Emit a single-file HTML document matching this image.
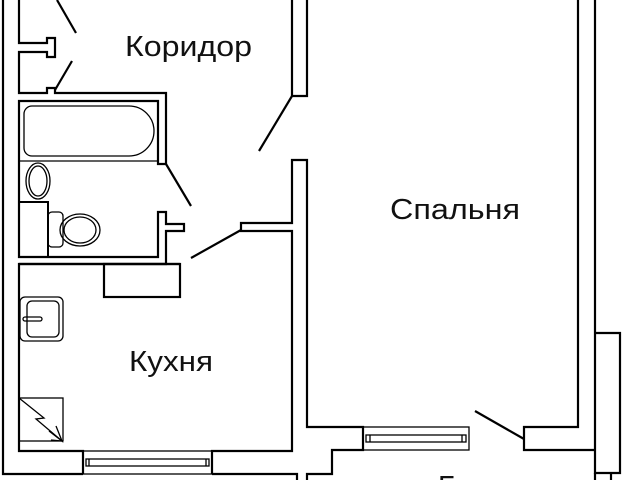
<!DOCTYPE html>
<html><head><meta charset="utf-8"><style>
html,body{margin:0;padding:0;background:#fff;width:622px;height:480px;overflow:hidden}
svg{display:block}
text{font-family:"Liberation Sans",sans-serif;fill:#111}
</style></head><body>
<svg width="622" height="480" viewBox="0 0 622 480" xmlns="http://www.w3.org/2000/svg">
<g fill="none" stroke="#000" stroke-width="2.2" stroke-linejoin="miter">
<polyline points="3,0 3,474 83,474"/>
<polyline points="19,0 19,43 47,43 47,38 55,38 55,57 47,57 47,52 19,52 19,93 47,93 47,88 55,88 55,93 166,93 166,164 158,164 158,101 19,101 19,257 158,257 158,212 166,212 166,224 184,224 184,231 166,231 166,264 19,264 19,451 83,451 83,474"/>
<line x1="19" y1="264" x2="180" y2="264"/>
<rect x="104" y="264" width="76" height="33"/>
<line x1="57" y1="0" x2="76" y2="33"/>
<line x1="72" y1="61" x2="55" y2="90"/>
<line x1="166" y1="164" x2="191" y2="206"/>
<line x1="191" y1="258" x2="241" y2="230"/>
<line x1="292" y1="96" x2="259" y2="151"/>
<line x1="475" y1="411" x2="524" y2="439"/>
<polyline points="212,474 212,451 292,451 292,231 241,231 241,223 292,223 292,160 307,160 307,427 363,427 363,450 332,450 332,474 307,474 307,480"/>
<polyline points="212,474 297,474 297,480"/>
<polyline points="292,0 292,96 307,96 307,0"/>
<polyline points="578,0 578,427 524,427 524,450 595,450"/>
<polyline points="595,0 595,333 620,333 620,473 595,473 595,333"/>
<polyline points="595,473 595,480"/>
<polyline points="611,473 611,480"/>
</g>
<g fill="none" stroke="#000" stroke-width="1.3">
<rect x="83" y="451" width="129" height="23"/>
<rect x="86" y="459" width="123" height="7"/>
<line x1="89" y1="459" x2="89" y2="466"/><line x1="206" y1="459" x2="206" y2="466"/>
<rect x="363" y="427" width="106" height="23"/>
<rect x="366" y="435" width="100" height="7"/>
<line x1="370" y1="435" x2="370" y2="442"/><line x1="462" y1="435" x2="462" y2="442"/>
<path d="M32,106 H129 A25,25 0 0 1 129,156 H32 A8,8 0 0 1 24,148 V114 A8,8 0 0 1 32,106 Z"/>
<line x1="19" y1="161" x2="158" y2="161"/>
<ellipse cx="38" cy="181" rx="12" ry="18"/>
<ellipse cx="38" cy="181" rx="9" ry="15"/>
<rect x="19" y="202" width="29" height="55" stroke-width="2"/>
<rect x="48" y="212" width="15" height="35" rx="4"/>
<ellipse cx="80" cy="230" rx="20" ry="16"/>
<ellipse cx="80" cy="230" rx="16" ry="13"/>
<rect x="20" y="297" width="43" height="44" rx="5"/>
<rect x="27" y="301" width="32" height="36" rx="5"/>
<rect x="23" y="317" width="19" height="4" rx="2"/>
<rect x="19" y="398" width="44" height="43"/>
<polyline points="19,398 44,418 36,419 62,441"/>
<polyline points="49,431 62,441 56,426"/>
<line x1="51" y1="440" x2="62" y2="441"/>
</g>
<text x="125" y="56" font-size="29" textLength="127" lengthAdjust="spacingAndGlyphs">Коридор</text>
<text x="390" y="219" font-size="29" textLength="130" lengthAdjust="spacingAndGlyphs">Спальня</text>
<text x="129" y="371" font-size="29" textLength="84" lengthAdjust="spacingAndGlyphs">Кухня</text>
<text x="438" y="496" font-size="29">Б</text>
</svg>
</body></html>
